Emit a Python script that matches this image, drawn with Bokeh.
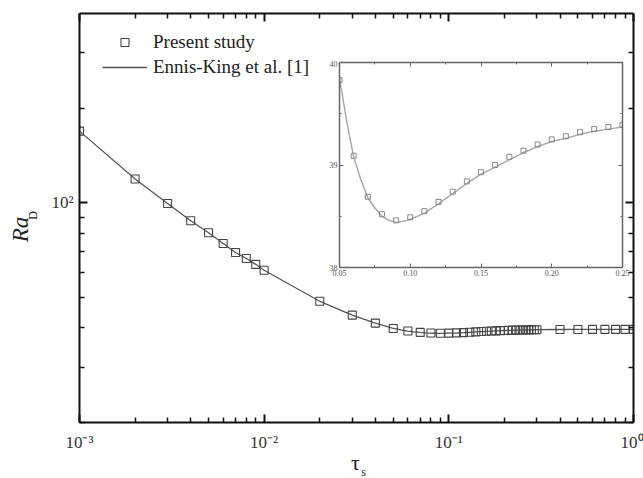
import math
from bokeh.plotting import figure
from bokeh.models import (FixedTicker, LogAxis, LinearAxis, CustomJSTickFormatter, Legend, LegendItem,
                          Label, NumeralTickFormatter, ColumnDataSource, Column)
from bokeh.embed import file_html
from bokeh.resources import INLINE

# ---------------- data ----------------
tau_present = [0.001, 0.002, 0.003, 0.004, 0.005, 0.006, 0.007, 0.008, 0.009, 0.01,
               0.02, 0.03, 0.04, 0.05, 0.06, 0.07, 0.08, 0.09, 0.10, 0.11, 0.12, 0.13,
               0.14, 0.15, 0.16, 0.17, 0.18, 0.19, 0.20, 0.21, 0.22, 0.23, 0.24, 0.25,
               0.26, 0.27, 0.28, 0.29, 0.30, 0.4, 0.5, 0.6, 0.7, 0.8, 0.9, 1.0]
ra_present = [169.0, 119.0, 99.5, 87.7, 80.3, 74.2, 69.5, 66.5, 63.7, 61.0,
              48.6, 43.9, 41.4, 39.83, 39.09, 38.69, 38.52, 38.46, 38.49, 38.55, 38.64, 38.74,
              38.84, 38.93, 39.00, 39.08, 39.14, 39.20, 39.25, 39.28, 39.32, 39.35, 39.37, 39.39,
              39.41, 39.43, 39.45, 39.46, 39.47, 39.52, 39.54, 39.55, 39.55, 39.56, 39.56, 39.56]

tau_ek = [0.001, 0.002, 0.003, 0.004, 0.005, 0.006, 0.007, 0.008, 0.009, 0.01,
          0.02, 0.03, 0.04, 0.05, 0.055, 0.06, 0.065, 0.07, 0.075, 0.08, 0.085, 0.09, 0.095,
          0.10, 0.11, 0.12, 0.13, 0.14, 0.15, 0.16, 0.17, 0.18, 0.19, 0.20, 0.21, 0.22,
          0.23, 0.24, 0.25, 0.26, 0.27, 0.28, 0.29, 0.30, 0.4, 0.5, 0.6, 0.7, 0.8, 0.9, 1.0]
ra_ek = [169.0, 119.0, 99.5, 87.7, 80.3, 74.2, 69.5, 66.5, 63.7, 61.0,
         48.6, 43.9, 41.4, 39.85, 39.43, 39.08, 38.86, 38.68, 38.58, 38.50, 38.46, 38.44, 38.45,
         38.47, 38.53, 38.62, 38.72, 38.82, 38.91, 38.98, 39.05, 39.12, 39.18, 39.23, 39.26, 39.30,
         39.33, 39.35, 39.37, 39.40, 39.42, 39.44, 39.45, 39.46, 39.52, 39.54, 39.55, 39.55, 39.56, 39.56, 39.56]

x_major = [1e-3, 1e-2, 1e-1, 1.0]
x_minor = [m * d for d in (1e-3, 1e-2, 1e-1) for m in range(2, 10)]
y_major = [100]
y_minor = [20, 30, 40, 50, 60, 70, 80, 90, 200, 300]

inset_x_major = [0.05, 0.10, 0.15, 0.20, 0.25]
inset_x_minor = [0.075, 0.125, 0.175, 0.225]
inset_y_major = [38, 39, 40]
inset_y_minor = [38.5, 39.5]

SERIF = "Liberation Serif"
W, H = 643, 478

# ---------------- main figure ----------------
p = figure(width=W, height=H, x_axis_type="log", y_axis_type="log",
           x_range=(1e-3, 1.0), y_range=(20, 400),
           output_backend="svg", toolbar_location=None,
           min_border_left=79, min_border_right=10, min_border_top=13, min_border_bottom=56)
p.grid.visible = False
p.outline_line_color = None

fmt = CustomJSTickFormatter(code="""
const e = Math.round(Math.log10(tick));
const sup = {'-':'\\u207b','0':'\\u2070','1':'\\u00b9','2':'\\u00b2','3':'\\u00b3'};
return '10' + String(e).split('').map(c => sup[c]).join('');
""")
blank = CustomJSTickFormatter(code="return '';")

def style_axis(ax, ticks, minor, labels=True):
    ax.ticker = FixedTicker(ticks=ticks, minor_ticks=minor)
    ax.axis_line_color = "#111111"
    ax.axis_line_width = 2
    ax.major_tick_line_color = "#111111"
    ax.minor_tick_line_color = "#111111"
    ax.major_tick_line_width = 2
    ax.minor_tick_line_width = 1.5
    ax.major_tick_in = 8
    ax.major_tick_out = 0
    ax.minor_tick_in = 5
    ax.minor_tick_out = 0
    if labels:
        ax.formatter = fmt
        ax.major_label_text_font = SERIF
        ax.major_label_text_font_size = "17px"
        ax.major_label_text_color = "#333333"
    else:
        ax.formatter = blank
        ax.major_label_standoff = 0

style_axis(p.xaxis[0], x_major, x_minor)
p.xaxis[0].major_label_standoff = 10
style_axis(p.yaxis[0], y_major, y_minor)
p.yaxis[0].major_label_standoff = 6

top_ax = LogAxis()
style_axis(top_ax, x_major, x_minor, labels=False)
p.add_layout(top_ax, "above")
right_ax = LogAxis()
style_axis(right_ax, y_major, y_minor, labels=False)
p.add_layout(right_ax, "right")

ln = p.line(tau_ek, ra_ek, line_color="#555555", line_width=1.3)
sq = p.scatter(tau_present, ra_present, marker="square", size=8,
               fill_color=None, line_color="#444444", line_width=1.1)

legend = Legend(items=[LegendItem(label="Present study", renderers=[sq]),
                       LegendItem(label="Ennis-King et al. [1]", renderers=[ln])],
                location=(23, 344), glyph_width=45, glyph_height=20, label_height=20,
                label_standoff=6, spacing=3, padding=0, margin=0,
                label_text_font=SERIF, label_text_font_size="19px", label_text_color="#222222",
                border_line_alpha=0, background_fill_alpha=0)
p.add_layout(legend)

# ---------------- inset figure ----------------
IN_W, IN_H, IN_LEFT, IN_TOP = 306, 219, 324, 60
inset = figure(width=IN_W, height=IN_H, x_range=(0.05, 0.25), y_range=(38, 40),
               output_backend="svg", toolbar_location=None,
               min_border_left=15, min_border_right=8, min_border_top=2, min_border_bottom=12)
inset.grid.visible = False
inset.outline_line_color = None
inset.background_fill_alpha = 0
inset.border_fill_alpha = 0

def style_inset_axis(ax, ticks, minor, labels=True, fmt_str="0.00"):
    ax.ticker = FixedTicker(ticks=ticks, minor_ticks=minor)
    ax.axis_line_color = "#666666"
    ax.axis_line_width = 1.5
    ax.major_tick_line_color = "#666666"
    ax.minor_tick_line_color = "#666666"
    ax.major_tick_in = 4
    ax.major_tick_out = 0
    ax.minor_tick_in = 2
    ax.minor_tick_out = 0
    if labels:
        ax.formatter = NumeralTickFormatter(format=fmt_str)
        ax.major_label_text_font = SERIF
        ax.major_label_text_font_size = "8px"
        ax.major_label_text_color = "#555555"
        ax.major_label_standoff = 2
    else:
        ax.formatter = blank
        ax.major_label_standoff = 0

style_inset_axis(inset.xaxis[0], inset_x_major, inset_x_minor)
style_inset_axis(inset.yaxis[0], inset_y_major, inset_y_minor, fmt_str="0")
it = LinearAxis()
style_inset_axis(it, inset_x_major, inset_x_minor, labels=False)
inset.add_layout(it, "above")
ir = LinearAxis()
style_inset_axis(ir, inset_y_major, inset_y_minor, labels=False)
inset.add_layout(ir, "right")

ek_src = ColumnDataSource(dict(x=[t for t in tau_ek if 0.05 <= t <= 0.25],
                               y=[r for t, r in zip(tau_ek, ra_ek) if 0.05 <= t <= 0.25]))
ps_src = ColumnDataSource(dict(x=[t for t in tau_present if 0.05 <= t <= 0.25],
                               y=[r for t, r in zip(tau_present, ra_present) if 0.05 <= t <= 0.25]))
inset.line("x", "y", source=ek_src, line_color="#aaaaaa", line_width=1.5)
inset.scatter("x", "y", source=ps_src, marker="square", size=5,
              fill_color=None, line_color="#888888", line_width=1)

# ---------------- overlay for axis titles (Ra_D, tau_s) ----------------
ov = figure(width=W, height=H, x_range=(0, W), y_range=(H, 0),
            output_backend="svg", toolbar_location=None,
            x_axis_location=None, y_axis_location=None, min_border=0)
ov.grid.visible = False
ov.outline_line_color = None
ov.background_fill_alpha = 0
ov.border_fill_alpha = 0

def title_text(x, y, text, size, italic=False, angle=0.0):
    ov.add_layout(Label(x=x, y=y, text=text, angle=angle,
                        text_font=SERIF, text_font_style="italic" if italic else "normal",
                        text_font_size=size, text_align="center", text_baseline="middle",
                        text_color="#222222"))

title_text(20, 229, "Ra", "23px", italic=True, angle=math.pi / 2)
title_text(32, 215, "D", "12px", angle=math.pi / 2)
title_text(355, 462, "τ", "22px")
title_text(363, 471, "s", "12px")

# wrap each figure in its own box so that their borders are not aligned with each other
box_main = Column(children=[p])
box_inset = Column(children=[inset], margin=(IN_TOP - H, 0, 0, IN_LEFT))
box_ov = Column(children=[ov], margin=(-(IN_TOP + IN_H), 0, 0, 0))
layout = Column(children=[box_main, box_inset, box_ov], spacing=0)

open("out.html", "w").write(file_html(layout, INLINE))
